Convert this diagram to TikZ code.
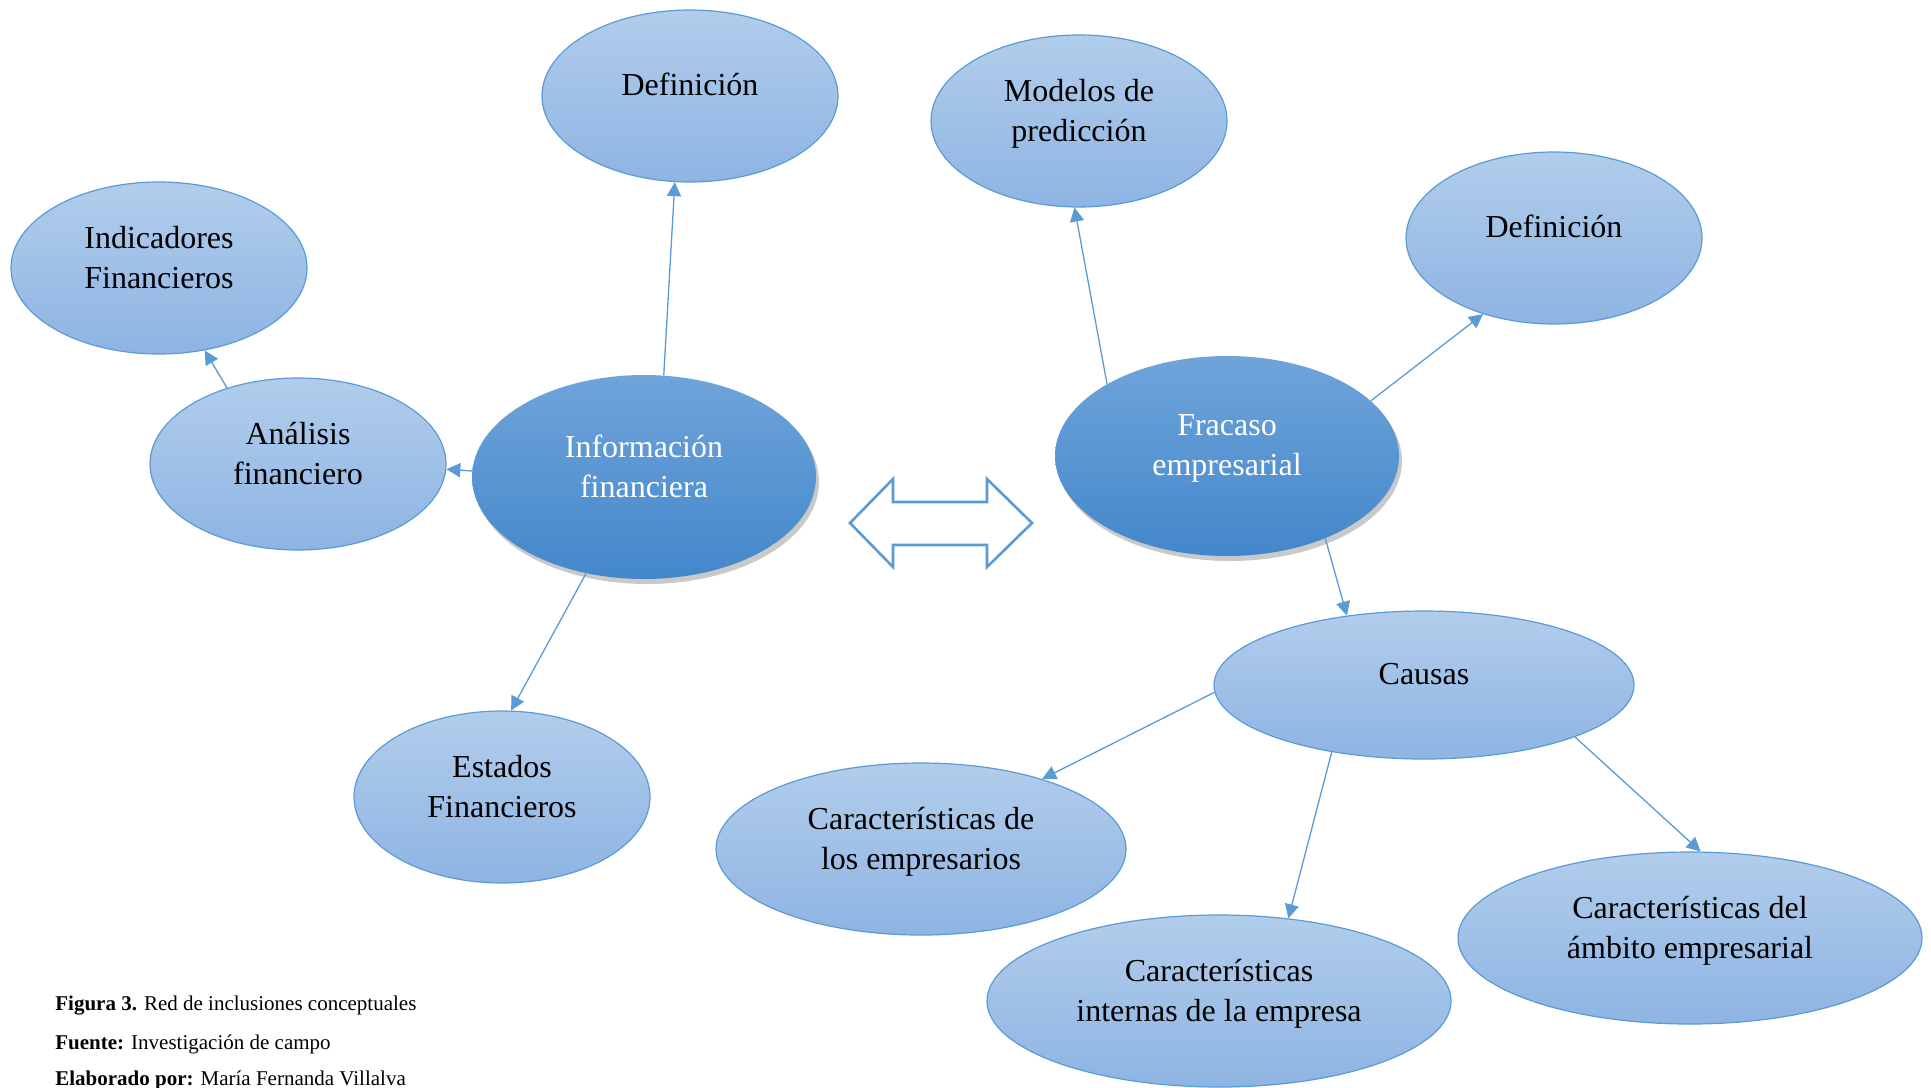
\documentclass[tikz,border=0pt]{standalone}
\usepackage{fontspec}
\setmainfont{Liberation Serif}
\usepackage{xcolor}
\usetikzlibrary{shapes.geometric, arrows.meta, positioning, shadows, calc}

\definecolor{edgeblue}{HTML}{5B9BD5}
\definecolor{lighttop}{HTML}{B1CDEB}
\definecolor{lightbot}{HTML}{8EB4E3}
\definecolor{darktop}{HTML}{6FA4DA}
\definecolor{darkbot}{HTML}{4387CB}

\begin{document}
\begin{tikzpicture}[x=0.5pt, y=-0.5pt, >={Triangle[length=7pt, width=7pt]}]
    \tikzset{
        concept/.style={ellipse, draw=edgeblue, line width=0.6pt, top color=lighttop, bottom color=lightbot, minimum width=148pt, minimum height=86pt, inner sep=0pt},
        core/.style={ellipse, draw=none, top color=darktop, bottom color=darkbot, minimum width=172pt, minimum height=102pt, inner sep=0pt, drop shadow={shadow xshift=1.5pt, shadow yshift=-2.5pt, opacity=0.3, fill=black!70}},
        lbl/.style={font=\fontsize{16}{20}\selectfont, align=center, execute at begin node=\strut, execute at end node=\strut, yshift=2.5pt},
        txt/.style={label={[lbl]center:#1}},
        txtone/.style={label={[lbl, yshift=1.9pt]center:#1}},
        wtxt/.style={label={[lbl, text=white]center:#1}},
        line/.style={draw=edgeblue, line width=0.65pt, ->},
        note/.style={anchor=base west, font=\fontsize{10.5}{12}\selectfont, inner sep=0pt},
        dblarrow/.style={draw=edgeblue, line width=1.3pt, fill=white, line join=miter}
    }
    \useasboundingbox (0,0) rectangle (1931,1087);

    % left side
    \node (Def1) [concept, txtone={Definición}] at (690,96) {};
    \node (Ind) [concept, txt={Indicadores\\Financieros}] at (159,268) {};
    \node (Ana) [concept, txt={Análisis\\financiero}] at (298,464) {};
    \node (Info) [core, wtxt={Información\\financiera}] at (644,477) {};
    \node (Est) [concept, txt={Estados\\Financieros}] at (502,797) {};

    % right side
    \node (Mod) [concept, txt={Modelos de\\predicción}] at (1079,121) {};
    \node (Def2) [concept, txtone={Definición}] at (1554,238) {};
    \node (Fra) [core, minimum height=100pt, wtxt={Fracaso\\empresarial}] at (1227,456) {};
    \node (Cau) [concept, minimum width=210pt, minimum height=74pt, txtone={Causas}] at (1424,685) {};
    \node (CarEmp) [concept, minimum width=205pt, txt={Características de\\los empresarios}] at (921,849) {};
    \node (CarInt) [concept, minimum width=232pt, txt={Características\\internas de la empresa}] at (1219,1001) {};
    \node (CarAmb) [concept, minimum width=232pt, txt={Características del\\ámbito empresarial}] at (1690,938) {};

    \path [line] (Info.79) -- (Def1.260);
    \path [line] (Info.178) -- (Ana.358);
    \path [line] (Ana.133) -- (Ind.299);
    \path [line] (Info.239) -- (Est.84);
    \path [line] (Fra.149) -- (Mod.267);
    \path [line] (Fra.21) -- (Def2.227);
    \path [line] (Fra.320) -- (Cau.138);
    \path [line] (Cau.182) -- (CarEmp.30);
    \path [line] (Cau.216) -- (CarInt.50);
    \path [line] (Cau.341) -- (CarAmb.83);

    % two-way arrow between both ideas
    \draw [dblarrow] (850,523) -- (893,479) -- (893,502) -- (987,502) -- (987,479)
        -- (1032,523) -- (987,567) -- (987,545) -- (893,545) -- (893,567) -- cycle;

    \node (Fig) [note] at (55,1010) {\textbf{Figura 3.} Red de inclusiones conceptuales};
    \node (Src) [note] at (55,1049) {\textbf{Fuente:} Investigación de campo};
    \node (Auth) [note] at (55,1085) {\textbf{Elaborado por:} María Fernanda Villalva};

\end{tikzpicture}
\end{document}
